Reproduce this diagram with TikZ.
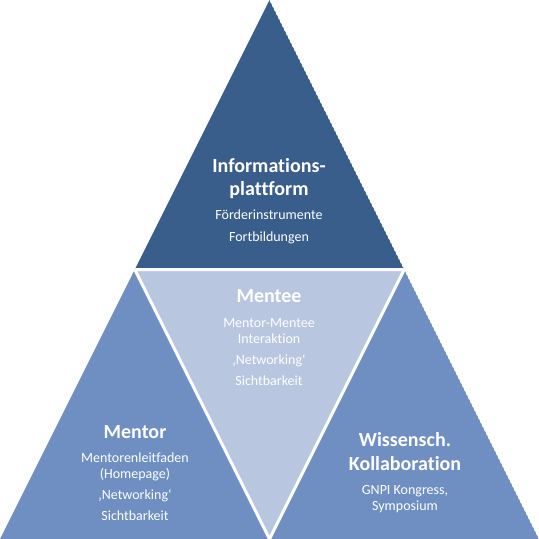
\documentclass[tikz,border=0pt]{standalone}
\usepackage{fontspec}
\setmainfont{Carlito}[Ligatures=NoCommon]
\definecolor{topblue}{RGB}{57,94,140}
\definecolor{sideblue}{RGB}{111,143,195}
\definecolor{midblue}{RGB}{185,198,224}
\begin{document}
\begin{tikzpicture}[x=1pt,y=-1pt,
  tri/.style={draw=white,line width=3pt,line join=miter},
  ttl/.style={text=white,font=\fontsize{20}{23}\selectfont\bfseries,align=center,inner sep=0pt},
  sub/.style={text=white,font=\fontsize{14}{16}\selectfont,align=center,inner sep=0pt}]
\useasboundingbox (0,0) rectangle (539,539);
\coordinate (A) at (269.5,0);
\coordinate (L) at (0,539);
\coordinate (R) at (539,539);
\coordinate (ML) at (134.75,269.5);
\coordinate (MR) at (404.25,269.5);
\coordinate (MB) at (269.5,539);
\begin{scope}
\clip (A) -- (L) -- (R) -- cycle;
\fill[topblue] (A) -- (ML) -- (MR) -- cycle;
\fill[sideblue] (ML) -- (L) -- (MB) -- cycle;
\fill[sideblue] (MR) -- (MB) -- (R) -- cycle;
\fill[midblue] (ML) -- (MR) -- (MB) -- cycle;
\draw[tri] (ML) -- (MR) -- (MB) -- cycle;
\end{scope}
% top
\node[ttl] (t1) at (269,178.5) {Informations-\\plattform};
\node[sub,font=\fontsize{14}{22}\selectfont] (t2) at (269,227) {Förderinstrumente\\Fortbildungen};
% mentee
\node[ttl] (m1) at (269,296) {Mentee};
\node[sub] (m2) at (269,352) {Mentor-Mentee\\Interaktion\\[5pt]‚Networking‘\\[5pt]Sichtbarkeit};
% mentor
\node[ttl] (l1) at (135,432) {Mentor};
\node[sub] (l2) at (135,487) {Mentorenleitfaden\\(Homepage)\\[5pt]‚Networking‘\\[5pt]Sichtbarkeit};
% wissensch
\node[ttl,font=\fontsize{20}{24}\selectfont\bfseries] (r1) at (405,452) {Wissensch.\\Kollaboration};
\node[sub] (r2) at (405,499) {GNPI Kongress,\\Symposium};
\end{tikzpicture}
\end{document}
